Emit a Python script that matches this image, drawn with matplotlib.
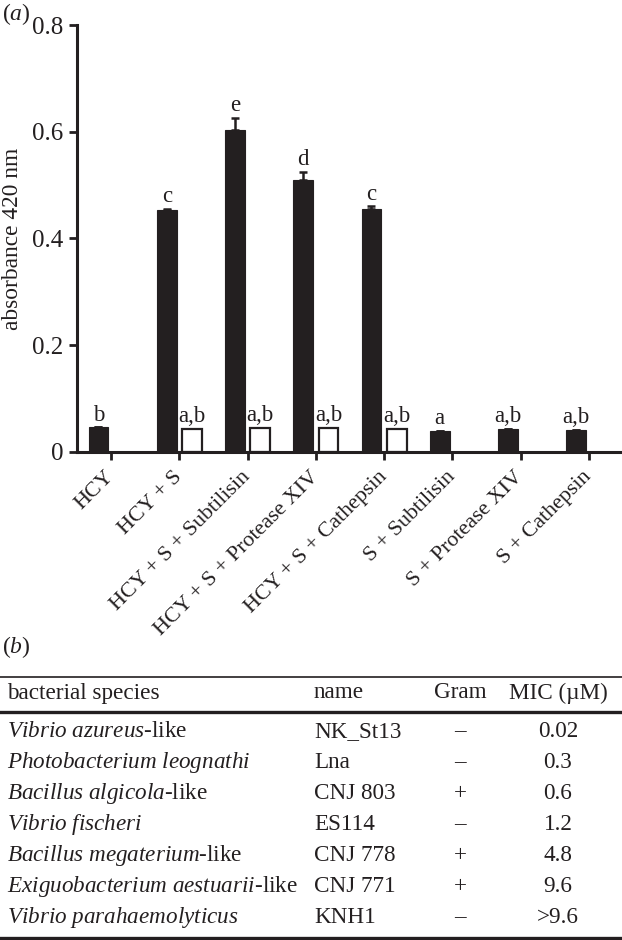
import numpy as np
import matplotlib
matplotlib.use("Agg")
import matplotlib.pyplot as plt
from matplotlib.lines import Line2D

plt.rcParams['font.family'] = 'Liberation Serif'
plt.rcParams['mathtext.fontset'] = 'custom'
plt.rcParams['mathtext.rm'] = 'Liberation Serif'
plt.rcParams['mathtext.it'] = 'Liberation Serif:italic'

INK = '#231f20'

# panel (a) data
groups = ['HCY', 'HCY + S', 'HCY + S + Subtilisin', 'HCY + S + Protease XIV',
          'HCY + S + Cathepsin', 'S + Subtilisin', 'S + Protease XIV', 'S + Cathepsin']
black_vals = [0.046, 0.453, 0.604, 0.510, 0.455, 0.040, 0.043, 0.042]
black_err = [0.0, 0.003, 0.021, 0.015, 0.005, 0.0, 0.0, 0.0]
white_vals = [np.nan, 0.043, 0.045, 0.045, 0.044, np.nan, np.nan, np.nan]
black_letters = ['b', 'c', 'e', 'd', 'c', 'a', 'a,b', 'a,b']
white_letters = ['', 'a,b', 'a,b', 'a,b', 'a,b', '', '', '']
yticks = [0, 0.2, 0.4, 0.6, 0.8]
ytick_labels = ['0', '0.2', '0.4', '0.6', '0.8']

# panel (b) data
species_italic = ['Vibrio azureus', 'Photobacterium leognathi', 'Bacillus algicola',
                  'Vibrio fischeri', 'Bacillus megaterium', 'Exiguobacterium aestuarii',
                  'Vibrio parahaemolyticus']
species_suffix = ['-like', '', '-like', '', '-like', '-like', '']
strain_names = ['NK_St13', 'Lna', 'CNJ 803', 'ES114', 'CNJ 778', 'CNJ 771', 'KNH1']
gram = ['\u2013', '\u2013', '+', '\u2013', '+', '+', '\u2013']
mic = ['0.02', '0.3', '0.6', '1.2', '4.8', '9.6', '>9.6']
headers = ['bacterial species', 'name', 'Gram', 'MIC (\u00b5M)']

W, H = 622, 940
fig = plt.figure(figsize=(W / 100, H / 100), dpi=100)


def fx(px):
    return px / W


def fy(py):
    return 1 - py / H


ax = fig.add_axes([fx(77), fy(452), fx(623) - fx(77), fy(25) - fy(452)])
x = np.arange(len(groups))
bw = 0.29
off = 0.185
ax.bar(x - off, black_vals, bw, color=INK, edgecolor=INK, linewidth=0.8)
ax.errorbar(x - off, black_vals, yerr=[np.zeros(len(x)), black_err], fmt='none',
            ecolor=INK, elinewidth=1.8, capsize=3.2, capthick=1.8)
ax.bar(x + off, white_vals, bw, color='white', edgecolor=INK, linewidth=1.6)

# significance letters above the bars
for i in range(len(x)):
    ax.annotate(black_letters[i], (x[i] - off, black_vals[i] + black_err[i]),
                xytext=(0, 5), textcoords='offset points', ha='center',
                va='baseline', fontsize=16.5, color=INK)
    if white_letters[i]:
        ax.annotate(white_letters[i], (x[i] + off, white_vals[i]),
                    xytext=(0, 5), textcoords='offset points', ha='center',
                    va='baseline', fontsize=16.5, color=INK)

ax.set_xlim(-0.5, 7.5)
ax.set_ylim(0, 0.8)
ax.set_yticks(yticks)
ax.set_yticklabels(ytick_labels, fontsize=18, color=INK)
ax.set_xticks(x)
ax.set_xticklabels(groups, rotation=45, ha='right', va='center',
                   rotation_mode='anchor', fontsize=15.8, color=INK)
ax.tick_params(axis='both', direction='out', length=6, width=2, color=INK)
ax.tick_params(axis='x', pad=10)
ax.tick_params(axis='y', pad=4)
for s in ['top', 'right']:
    ax.spines[s].set_visible(False)
for s in ['left', 'bottom']:
    ax.spines[s].set_linewidth(2.2)
    ax.spines[s].set_color(INK)
ax.set_ylabel('absorbance 420 nm', fontsize=16.8, color=INK)
ax.yaxis.set_label_coords(-(77 - 23) / 546, 0.5)

fig.text(fx(2), fy(14), r'($\mathit{a}$)', fontsize=17, color=INK, va='center')
fig.text(fx(2), fy(647), r'($\mathit{b}$)', fontsize=17, color=INK, va='center')

# table (b)
tfs = 16.7
fig.add_artist(Line2D([0, 1], [fy(677), fy(677)], color=INK, lw=1.2))
fig.add_artist(Line2D([0, 1], [fy(712), fy(712)], color=INK, lw=2.4))
fig.add_artist(Line2D([0, 1], [fy(938), fy(938)], color=INK, lw=2.4))

hy = 693
fig.text(fx(7), fy(hy), headers[0], fontsize=tfs, color=INK, va='center')
fig.text(fx(314), fy(hy), headers[1], fontsize=tfs, color=INK, va='center')
fig.text(fx(460), fy(hy), headers[2], fontsize=tfs, color=INK, va='center', ha='center')
fig.text(fx(558), fy(hy), headers[3], fontsize=tfs, color=INK, va='center', ha='center')

for i in range(len(strain_names)):
    ry = 731.5 + 31.05 * i
    it = species_italic[i].replace(' ', r'\ ')
    fig.text(fx(7), fy(ry), r'$\mathit{' + it + '}$' + species_suffix[i],
             fontsize=tfs, color=INK, va='center')
    fig.text(fx(314), fy(ry), strain_names[i], fontsize=tfs, color=INK, va='center')
    fig.text(fx(460), fy(ry), gram[i], fontsize=tfs, color=INK, va='center', ha='center')
    fig.text(fx(558), fy(ry), mic[i], fontsize=tfs, color=INK, va='center', ha='center')

fig.savefig('out.png', dpi=100)
